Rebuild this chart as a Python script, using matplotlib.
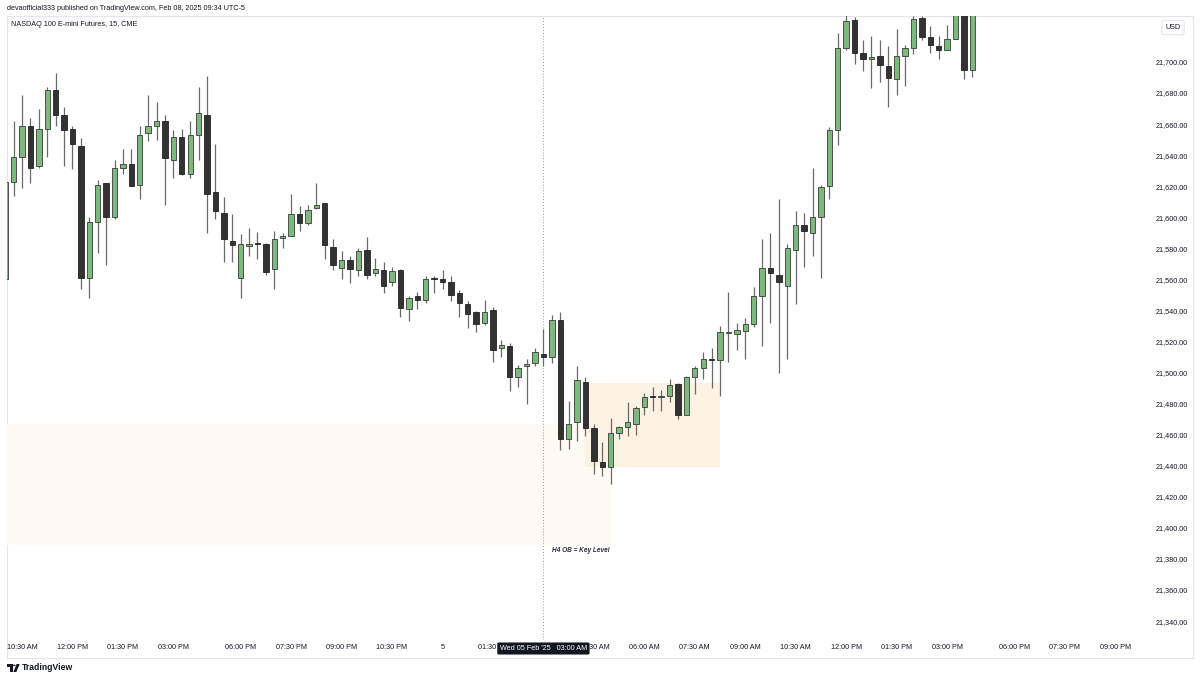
import numpy as np
import matplotlib
matplotlib.use("Agg")
import matplotlib.pyplot as plt
from matplotlib.patches import Rectangle, Polygon, Circle
from matplotlib.transforms import blended_transform_factory
from matplotlib import font_manager

# 15 min bars, NQ futures, bar 0 = Tue 04 Feb 10:30 AM
first_bar = -2
opens = [21560, 21623, 21639, 21659, 21633, 21657, 21682, 21666, 21657, 21646,
         21561, 21597, 21622, 21600, 21631.5, 21634, 21621, 21654, 21659, 21662,
         21637, 21652, 21628, 21653, 21666, 21616, 21603, 21584.5, 21561, 21581.5,
         21583.6, 21583, 21566.5, 21586.4, 21588, 21602, 21596, 21606, 21609, 21581,
         21567.5, 21572.5, 21566, 21579, 21564, 21566, 21558, 21566, 21541, 21549,
         21547, 21560.5, 21560, 21558.5, 21551, 21544, 21539, 21532, 21540, 21516,
         21517, 21497, 21504, 21506, 21512, 21510, 21534, 21457, 21468, 21494,
         21464.5, 21442.6, 21439, 21461, 21465, 21467, 21478, 21484.5, 21484, 21485,
         21492.6, 21473, 21497, 21503, 21509, 21508, 21525.5, 21525, 21527, 21531,
         21549, 21567.5, 21563, 21556, 21579, 21595, 21590, 21600, 21620, 21656,
         21709, 21727, 21706, 21702, 21704, 21697.5, 21689, 21704, 21709, 21728,
         21716, 21710, 21708, 21714.6, 21738, 21695]
highs = [21625, 21662, 21679, 21664, 21670, 21684, 21693, 21671, 21659, 21651,
         21600, 21624, 21622, 21637, 21644, 21644, 21659, 21679, 21674, 21666,
         21656, 21657, 21662, 21684, 21691, 21647, 21613, 21602, 21589, 21593,
         21590.5, 21583.5, 21591, 21590, 21615, 21607, 21608, 21622, 21609.5, 21586,
         21578, 21575, 21580, 21587, 21574, 21571, 21568, 21566.5, 21549, 21552,
         21562, 21562, 21566, 21562, 21553, 21546, 21539.5, 21547, 21542, 21521,
         21519, 21505, 21509, 21516, 21528, 21537, 21539, 21482, 21504, 21497,
         21467, 21455.5, 21471, 21465.5, 21481, 21478.5, 21487, 21491, 21489, 21496,
         21493, 21497.5, 21504, 21513, 21516, 21530, 21552, 21532, 21535, 21555,
         21586, 21590, 21612, 21583, 21604, 21602.5, 21632, 21621, 21658, 21718.5,
         21730, 21729, 21714, 21717, 21714, 21710, 21721, 21711, 21729.5, 21729.5,
         21723, 21717, 21724, 21745, 21745, 21745]
lows = [21558, 21614, 21619, 21622, 21632, 21639, 21659, 21633, 21631, 21554,
        21548, 21577, 21569, 21599, 21628, 21620, 21612, 21649, 21650, 21608,
        21625, 21627, 21625, 21637, 21590, 21599, 21571, 21571, 21548, 21575,
        21573, 21563, 21554, 21580, 21588, 21591, 21595, 21605.5, 21573, 21566,
        21560, 21557.5, 21562, 21560, 21562, 21551, 21556, 21536, 21533, 21541,
        21545, 21551, 21554, 21546, 21536, 21529, 21526, 21530.6, 21507, 21510,
        21488, 21491, 21480, 21504, 21504, 21506, 21450, 21451, 21456, 21459,
        21435, 21433.6, 21428, 21457, 21459, 21460, 21473, 21475.5, 21475.5, 21481,
        21470, 21472.5, 21486, 21496, 21490, 21485, 21507, 21514.5, 21508.5, 21529.5,
        21517, 21532, 21499.5, 21508.5, 21544, 21568, 21575, 21561, 21612, 21646.5,
        21708, 21698.5, 21694, 21683, 21687, 21671, 21679, 21684.5, 21705, 21714,
        21706, 21702, 21707.7, 21714.6, 21689, 21690.5]
closes = [21623, 21639, 21659, 21632, 21657, 21682, 21666, 21656, 21647, 21561,
          21597, 21621, 21600, 21632, 21634, 21620.4, 21653, 21659, 21662, 21638,
          21652, 21628, 21653, 21667, 21615, 21604, 21586, 21582, 21583, 21583,
          21582.8, 21565, 21586, 21588, 21602, 21596.5, 21605, 21608, 21582, 21569,
          21572.5, 21567, 21578.5, 21563, 21566.5, 21556, 21565.6, 21541.6, 21548, 21546.7,
          21560, 21560.3, 21558, 21550, 21544.6, 21538, 21531, 21539, 21514.5, 21518,
          21497, 21503, 21505.5, 21513, 21510, 21534, 21457, 21467, 21495, 21464.5,
          21443, 21439.4, 21461, 21465, 21468, 21477, 21484.5, 21484, 21484.5, 21492,
          21473, 21497, 21503, 21509, 21508, 21526, 21526, 21527.5, 21531, 21549,
          21567.5, 21564, 21558, 21580, 21595, 21591, 21600, 21619.5, 21656, 21709,
          21726.6, 21705.6, 21702, 21703, 21698, 21689.5, 21704, 21709, 21727.7, 21716,
          21711, 21708, 21714.6, 21738, 21695, 21740]

# the 03:00 AM tick sits under the crosshair label box
tick_bars = [0, 6, 12, 18, 26, 32, 38, 44, 50, 56, 68, 74, 80, 86, 92,
             98, 104, 110, 118, 124, 130]
tick_labels = ["10:30 AM", "12:00 PM", "01:30 PM", "03:00 PM", "06:00 PM",
               "07:30 PM", "09:00 PM", "10:30 PM", "5", "01:30 AM",
               "04:30 AM", "06:00 AM", "07:30 AM", "09:00 AM", "10:30 AM",
               "12:00 PM", "01:30 PM", "03:00 PM", "06:00 PM", "07:30 PM",
               "09:00 PM"]
price_ticks = list(range(21340, 21701, 20))

# order block zones: start bar, end bar, bottom, top
zone_start = [-10, 67]
zone_end = [70, 83]
zone_low = [21389, 21439.4]
zone_high = [21467, 21493.5]
zone_color = ["#fffaf2", "#fdf3e4"]

cross_bar = 62
cross_label = "Wed 05 Feb '25   03:00 AM"

names = {f.name for f in font_manager.fontManager.ttflist}
if "Liberation Sans Narrow" in names:
    FONT, FS = "Liberation Sans Narrow", 6.0
else:
    FONT, FS = "Liberation Sans", 5.2
plt.rcParams["font.family"] = [FONT, "DejaVu Sans"]

W, H = 1200, 680
def px(x0, y0, x1, y1):
    return [x0 / W, 1 - y1 / H, (x1 - x0) / W, (y1 - y0) / H]

fig = plt.figure(figsize=(12, 6.8), dpi=100)
fig.patch.set_facecolor("white")

frame = fig.add_axes(px(7, 16, 1193, 658))
frame.set_xticks([])
frame.set_yticks([])
for s in frame.spines.values():
    s.set_color("#e3e5ea")
    s.set_linewidth(0.8)

ax = fig.add_axes(px(7, 16, 1150, 640))
ax.patch.set_alpha(0)
for s in ax.spines.values():
    s.set_visible(False)

step = 8.41
ax.set_xlim((7 - 22) / step, (1150 - 22) / step)
ax.set_ylim(21327.8, 21729.6)

o = np.array(opens); h = np.array(highs); l = np.array(lows); c = np.array(closes)
idx = np.arange(len(o)) + first_bar
up = c >= o
body_lo = np.minimum(o, c)
body_h = np.maximum(np.abs(c - o), 0.7)
fill = np.where(up, "#7db97d", "#333333")
edge = np.where(up, "#3a3a3a", "#222222")

for s0, s1, lo, hi, col in zip(zone_start, zone_end, zone_low, zone_high, zone_color):
    ax.add_patch(Rectangle((s0, lo), s1 - s0, hi - lo, facecolor=col,
                           edgecolor="none", zorder=0))

ax.vlines(idx, l, h, color="#6a6a6a", linewidth=0.9, zorder=2)
ax.bar(idx, body_h, bottom=body_lo, width=0.64, color=fill, edgecolor=edge,
       linewidth=0.6, zorder=3)

ax.axvline(cross_bar, color="#9598a1", linewidth=0.7, linestyle=(0, (1, 2)),
           zorder=1)

ax.text(63.0, 21385.7, "H4 OB = Key Level", fontsize=FS - 0.5, style="italic",
        weight="bold", color="#2a2e39", ha="left", va="center")

ax.yaxis.tick_right()
ax.set_yticks(price_ticks)
ax.set_yticklabels([f"{v:,.2f}" for v in price_ticks])
ax.tick_params(axis="y", length=0, pad=4.3, labelsize=FS, labelcolor="#131722")
ax.set_xticks(tick_bars)
ax.set_xticklabels(tick_labels)
ax.tick_params(axis="x", length=0, pad=3.2, labelsize=FS, labelcolor="#131722")

trans = blended_transform_factory(ax.transData, fig.transFigure)
ax.text(cross_bar, 1 - 648.5 / H, cross_label, transform=trans, ha="center",
        va="center", fontsize=FS, color="white", zorder=10,
        bbox=dict(boxstyle="round,pad=0.35,rounding_size=0.2", fc="#131722",
                  ec="none"))

fig.text(7 / W, 1 - 8 / H, "devaofficial333 published on TradingView.com, Feb 08, 2025 09:34 UTC-5",
         fontsize=FS, color="#131722", ha="left", va="center")
fig.text(11 / W, 1 - 25 / H, "NASDAQ 100 E-mini Futures, 15, CME",
         fontsize=FS, color="#131722", ha="left", va="center")
fig.text(1173 / W, 1 - 27.5 / H, "USD", fontsize=FS, color="#131722",
         ha="center", va="center",
         bbox=dict(boxstyle="round,pad=0.5,rounding_size=0.3", fc="white",
                   ec="#e3e5ea", lw=0.8))

# TradingView logo, bottom left
def fp(pts):
    return [(x / W, 1 - y / H) for x, y in pts]
fig.patches.append(Polygon(fp([(7, 664), (12.5, 664), (12.5, 672), (10, 672),
                               (10, 666.6), (7, 666.6)]), closed=True,
                           fc="#131722", ec="none", transform=fig.transFigure))
fig.patches.append(Circle((14.2 / W, 1 - 665.4 / H), 1.3 / W, fc="#131722",
                          ec="none", transform=fig.transFigure))
fig.patches.append(Polygon(fp([(16.6, 664), (19.6, 664), (16.4, 672), (13.4, 672)]),
                           closed=True, fc="#131722", ec="none",
                           transform=fig.transFigure))
fig.text(21.5 / W, 1 - 668 / H, "TradingView", fontsize=FS + 1.0, weight="bold",
         color="#131722", ha="left", va="center")

fig.savefig("out.png", dpi=100)
